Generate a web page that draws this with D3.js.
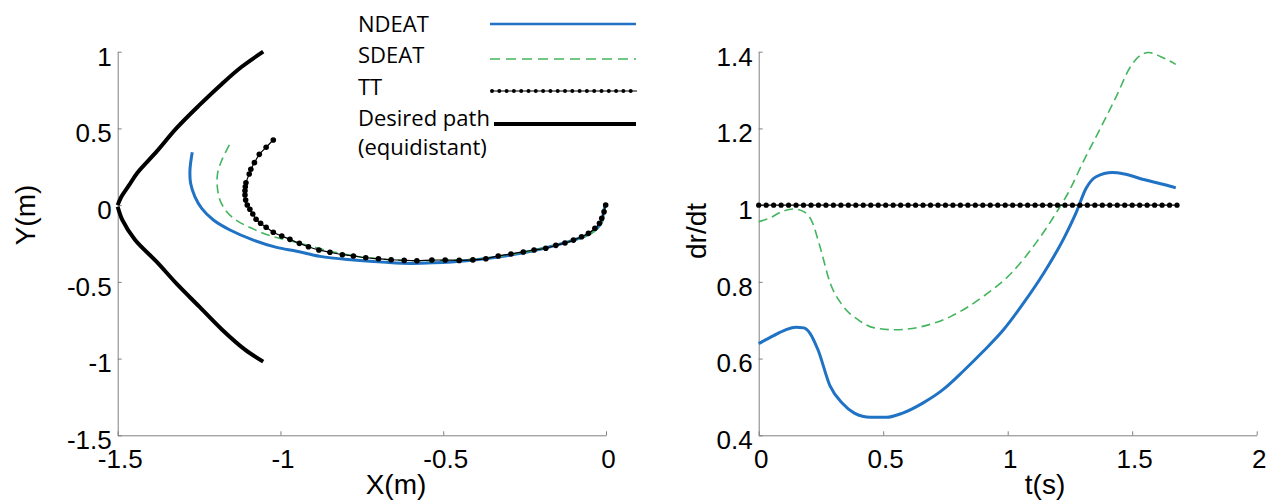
<!DOCTYPE html>
<html>
<head>
<meta charset="utf-8">
<script src="https://cdn.jsdelivr.net/npm/d3@7"></script>
<style>
	body { margin: 0; background: #fff; }
	svg text { fill: #000; }
	.tick text { font-family: "Liberation Sans", Arial, sans-serif; font-size: 26px; }
	.tick line, .domain { stroke: #808080; }
	.title { font-family: "Liberation Sans", Arial, sans-serif; font-size: 28px; }
	.legend text { font-family: "Open Sans", Lato, sans-serif; font-size: 22px; }
</style>
</head>
<body>
<svg id="chart" width="1272" height="501"></svg>
<script>
// ---- left panel: trajectories in the plane (m)
let desiredUpperX = [-1.5, -1.49, -1.465, -1.44, -1.38, -1.32, -1.25, -1.18, -1.12, -1.053];
let desiredUpperY = [0.0, 0.05, 0.13, 0.21, 0.35, 0.5, 0.65, 0.79, 0.9, 1.0];
let desiredLowerX = [-1.5, -1.485, -1.447, -1.38, -1.32, -1.25, -1.18, -1.11, -1.053];
let desiredLowerY = [-0.01, -0.1, -0.226, -0.37, -0.51, -0.66, -0.81, -0.94, -1.02];

let ndeatX = [-1.271, -1.278, -1.276, -1.263, -1.242, -1.206, -1.155, -1.083, -1.012, -0.95, -0.878, -0.776, -0.674, -0.6, -0.53, -0.428, -0.325, -0.223, -0.151, -0.1, -0.059, -0.028, -0.013, -0.008, -0.003];
let ndeatY = [0.345, 0.229, 0.142, 0.055, -0.021, -0.097, -0.162, -0.228, -0.275, -0.3, -0.334, -0.357, -0.373, -0.38, -0.376, -0.362, -0.336, -0.297, -0.26, -0.228, -0.195, -0.152, -0.108, -0.053, 0.0];

let sdeatX = [-1.157, -1.18, -1.193, -1.194, -1.186, -1.165, -1.134, -1.088, -1.032, -0.981, -0.919, -0.848, -0.776, -0.7, -0.6, -0.5, -0.4, -0.3, -0.2, -0.1, -0.05, -0.02, -0.008, -0.002];
let sdeatY = [0.392, 0.294, 0.208, 0.12, 0.034, -0.043, -0.101, -0.151, -0.199, -0.227, -0.26, -0.3, -0.33, -0.35, -0.362, -0.36, -0.352, -0.325, -0.285, -0.23, -0.19, -0.14, -0.08, 0.0];

let ttX = [-1.022, -1.044, -1.065, -1.08, -1.091, -1.096, -1.106, -1.108, -1.109, -1.109, -1.107, -1.102, -1.094, -1.085, -1.075, -1.061, -1.044, -1.022, -0.996, -0.971, -0.942, -0.914, -0.882, -0.848, -0.81, -0.776, -0.738, -0.699, -0.66, -0.62, -0.581, -0.535, -0.494, -0.451, -0.409, -0.369, -0.331, -0.292, -0.254, -0.221, -0.185, -0.154, -0.126, -0.1, -0.075, -0.054, -0.034, -0.02, -0.013, -0.006, -0.001];
let ttY = [0.425, 0.377, 0.331, 0.277, 0.234, 0.203, 0.146, 0.12, 0.094, 0.066, 0.033, 0.001, -0.027, -0.058, -0.092, -0.118, -0.144, -0.177, -0.201, -0.223, -0.249, -0.271, -0.292, -0.307, -0.323, -0.331, -0.343, -0.349, -0.356, -0.36, -0.362, -0.358, -0.358, -0.36, -0.357, -0.349, -0.331, -0.318, -0.305, -0.292, -0.281, -0.262, -0.247, -0.228, -0.206, -0.184, -0.151, -0.118, -0.086, -0.043, 0.001];

// ---- right panel: dr/dt over time
let ndeatT = [0, 0.06, 0.108, 0.149, 0.181, 0.206, 0.238, 0.287, 0.335, 0.384, 0.449, 0.513, 0.578, 0.659, 0.74, 0.821, 0.902, 0.983, 1.064, 1.145, 1.226, 1.274, 1.315, 1.355, 1.42, 1.469, 1.55, 1.631, 1.675];
let ndeatRate = [0.639, 0.66, 0.675, 0.682, 0.68, 0.666, 0.623, 0.528, 0.484, 0.458, 0.447, 0.447, 0.458, 0.484, 0.519, 0.567, 0.619, 0.675, 0.745, 0.823, 0.914, 0.979, 1.044, 1.074, 1.085, 1.081, 1.066, 1.053, 1.045];

let sdeatT = [0, 0.044, 0.092, 0.141, 0.181, 0.214, 0.246, 0.287, 0.335, 0.4, 0.465, 0.546, 0.659, 0.772, 0.902, 1.015, 1.113, 1.194, 1.242, 1.307, 1.372, 1.436, 1.493, 1.534, 1.566, 1.615, 1.675];
let sdeatRate = [0.957, 0.966, 0.983, 0.99, 0.983, 0.957, 0.892, 0.797, 0.74, 0.701, 0.68, 0.675, 0.684, 0.71, 0.762, 0.823, 0.901, 0.979, 1.031, 1.118, 1.2, 1.283, 1.361, 1.391, 1.398, 1.387, 1.367];

let ttT = [0, 0.03, 0.06, 0.09, 0.12, 0.15, 0.18, 0.21, 0.24, 0.27, 0.30, 0.33, 0.36, 0.39, 0.42, 0.45, 0.48, 0.51, 0.54, 0.57, 0.60, 0.63, 0.66, 0.69, 0.72, 0.75, 0.78, 0.81, 0.84, 0.87, 0.90, 0.93, 0.96, 0.99, 1.02, 1.05, 1.08, 1.11, 1.14, 1.17, 1.20, 1.23, 1.26, 1.29, 1.32, 1.35, 1.38, 1.41, 1.44, 1.47, 1.50, 1.53, 1.56, 1.59, 1.62, 1.65, 1.68];
let ttRate = [1, 1, 1, 1, 1, 1, 1, 1, 1, 1, 1, 1, 1, 1, 1, 1, 1, 1, 1, 1, 1, 1, 1, 1, 1, 1, 1, 1, 1, 1, 1, 1, 1, 1, 1, 1, 1, 1, 1, 1, 1, 1, 1, 1, 1, 1, 1, 1, 1, 1, 1, 1, 1, 1, 1, 1, 1];

let leftXTicks = [-1.5, -1, -0.5, 0];
let leftYTicks = [1, 0.5, 0, -0.5, -1, -1.5];
let rightXTicks = [0, 0.5, 1, 1.5, 2];
let rightYTicks = [1.4, 1.2, 1, 0.8, 0.6, 0.4];

let legendNames = ['NDEAT', 'SDEAT', 'TT', 'Desired path'];

let blue = '#1f72c4';
let green = '#43b55e';

let svg = d3.select('svg#chart');
let top_ = 51.7, bottom = 435.3;

// scales
let xL = d3.scaleLinear([-1.5, 0], [117.7, 606]);
let yL = d3.scaleLinear([-1.5, 1], [bottom, top_]);
let xR = d3.scaleLinear([0, 2], [758.7, 1256.7]);
let yR = d3.scaleLinear([0.4, 1.4], [bottom, top_]);

function zip(a, b) {
	return a.map((d, i) => [d, b[i]]);
}

// plain hyphen minus like the original figure
let fmt = d => String(d);

function drawAxes(x, y, xTicks, yTicks) {
	let gx = svg.append('g')
		.attr('transform', 'translate(0,' + bottom + ')')
		.call(d3.axisBottom(x).tickValues(xTicks).tickFormat(fmt).tickSizeInner(-4).tickSizeOuter(0).tickPadding(14));
	gx.selectAll('text').attr('dx', 2);
	let gy = svg.append('g')
		.attr('transform', 'translate(' + x.range()[0] + ',0)')
		.call(d3.axisLeft(y).tickValues(yTicks).tickFormat(fmt).tickSizeInner(-4).tickSizeOuter(0).tickPadding(6));
	gy.selectAll('text').attr('y', 5);
	svg.selectAll('.domain').attr('stroke', '#808080');
}

drawAxes(xL, yL, leftXTicks, leftYTicks);
drawAxes(xR, yR, rightXTicks, rightYTicks);

// axis titles
svg.append('text').attr('class', 'title').attr('text-anchor', 'middle')
	.attr('transform', 'translate(35,215) rotate(-90)').text('Y(m)');
svg.append('text').attr('class', 'title').attr('text-anchor', 'middle')
	.attr('x', 396).attr('y', 494).text('X(m)');
svg.append('text').attr('class', 'title').attr('text-anchor', 'middle')
	.attr('transform', 'translate(706,231) rotate(-90)').text('dr/dt');
svg.append('text').attr('class', 'title').attr('text-anchor', 'middle')
	.attr('x', 1045).attr('y', 494).text('t(s)');

// left panel
let lineL = d3.line().x(d => xL(d[0])).y(d => yL(d[1])).curve(d3.curveCatmullRom);
let gLeft = svg.append('g');
[zip(desiredUpperX, desiredUpperY), zip(desiredLowerX, desiredLowerY)].forEach(function (pts) {
	gLeft.append('path').attr('d', lineL(pts))
		.attr('fill', 'none').attr('stroke', '#000').attr('stroke-width', 4);
});
gLeft.append('path').attr('d', lineL(zip(ndeatX, ndeatY)))
	.attr('fill', 'none').attr('stroke', blue).attr('stroke-width', 3);
gLeft.append('path').attr('d', lineL(zip(sdeatX, sdeatY)))
	.attr('fill', 'none').attr('stroke', green).attr('stroke-width', 1.6).attr('stroke-dasharray', '9,5');
let ttLeft = zip(ttX, ttY);
gLeft.append('path').attr('d', lineL(ttLeft))
	.attr('fill', 'none').attr('stroke', '#000').attr('stroke-width', 1.2);
gLeft.selectAll('circle').data(ttLeft).join('circle')
	.attr('cx', d => xL(d[0])).attr('cy', d => yL(d[1])).attr('r', 2.8).attr('fill', '#000');

// right panel
let lineR = d3.line().x(d => xR(d[0])).y(d => yR(d[1])).curve(d3.curveMonotoneX);
let gRight = svg.append('g');
gRight.append('path').attr('d', lineR(zip(sdeatT, sdeatRate)))
	.attr('fill', 'none').attr('stroke', green).attr('stroke-width', 1.6).attr('stroke-dasharray', '9,5');
gRight.append('path').attr('d', lineR(zip(ndeatT, ndeatRate)))
	.attr('fill', 'none').attr('stroke', blue).attr('stroke-width', 3);
let ttRight = zip(ttT, ttRate);
gRight.append('path').attr('d', lineR(ttRight))
	.attr('fill', 'none').attr('stroke', '#000').attr('stroke-width', 1.2);
gRight.selectAll('circle').data(ttRight).join('circle')
	.attr('cx', d => xR(d[0])).attr('cy', d => yR(d[1])).attr('r', 2.6).attr('fill', '#000');

// legend
let legend = svg.append('g').attr('class', 'legend');
let legendY = [24, 59, 91, 124];
let legendTextY = [32, 63, 95, 126];
legendNames.forEach(function (name, i) {
	legend.append('text').attr('x', 358).attr('y', legendTextY[i]).text(name);
});
legend.append('text').attr('x', 358).attr('y', 155).text('(equidistant)');
legend.append('line').attr('x1', 490).attr('x2', 636).attr('y1', legendY[0]).attr('y2', legendY[0])
	.attr('stroke', blue).attr('stroke-width', 2.5);
legend.append('line').attr('x1', 490).attr('x2', 636).attr('y1', legendY[1]).attr('y2', legendY[1])
	.attr('stroke', green).attr('stroke-width', 1.6).attr('stroke-dasharray', '10,6');
legend.append('line').attr('x1', 491).attr('x2', 637).attr('y1', legendY[2]).attr('y2', legendY[2])
	.attr('stroke', '#000').attr('stroke-width', 1.2);
legend.selectAll('circle.leg').data(d3.range(492, 638, 7.3)).join('circle')
	.attr('class', 'leg').attr('cx', d => d).attr('cy', legendY[2]).attr('r', 2).attr('fill', '#000');
legend.append('line').attr('x1', 494).attr('x2', 636).attr('y1', legendY[3]).attr('y2', legendY[3])
	.attr('stroke', '#000').attr('stroke-width', 4);
</script>
</body>
</html>
